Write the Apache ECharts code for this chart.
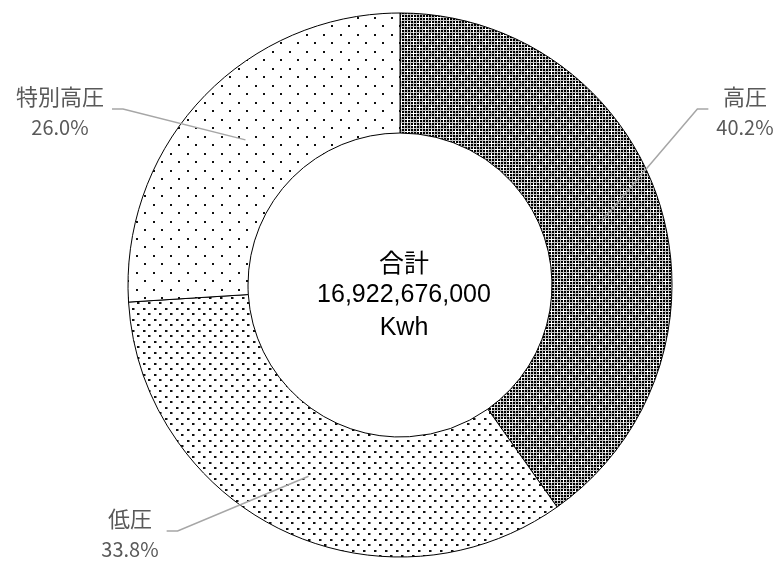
<!DOCTYPE html>
<html>
<head>
<meta charset="utf-8">
<script src="https://cdn.jsdelivr.net/npm/echarts@6/dist/echarts.min.js"></script>
<style>
html,body{margin:0;padding:0;background:#fff;}
#main{width:780px;height:562px;}
</style>
</head>
<body>
<div id="main"></div>
<script>
// ---- data ----
const categories = ['高圧', '低圧', '特別高圧'];
const shares = [40.2, 33.8, 26.0];
const totalLabel = ['合計', '16,922,676,000', 'Kwh'];

// ---- layout constants ----
const CX = 400, CY = 285, R_IN = 152, R_OUT = 272;
const labelBoxes = [
  { x: 745, y: 112, side: 1 },
  { x: 130, y: 534, side: -1 },
  { x: 60, y: 112, side: -1 }
];

function makePattern(size, draw) {
  const c = document.createElement('canvas');
  c.width = size; c.height = size;
  const ctx = c.getContext('2d');
  ctx.fillStyle = '#fff';
  ctx.fillRect(0, 0, size, size);
  draw(ctx, size);
  return { image: c, repeat: 'repeat' };
}

const patHigh = makePattern(12, function (ctx, s) {
  ctx.fillStyle = '#000';
  ctx.fillRect(0, 0, s, s);
  ctx.fillStyle = '#c4c4c4';
  for (let k = 2; k < s; k += 3) {
    ctx.fillRect(k, 0, 1, s);
    ctx.fillRect(0, k, s, 1);
  }
  ctx.fillStyle = '#fff';
  ctx.fillRect(5, 3, 1, 6);
  ctx.fillRect(3, 5, 6, 1);
  ctx.fillRect(11, 9, 1, 6);
  ctx.fillRect(9, 11, 3, 1);
  ctx.fillRect(0, 11, 3, 1);
  ctx.fillRect(11, 0, 1, 3);
});
const patLow = makePattern(11, function (ctx) {
  ctx.fillStyle = '#111';
  ctx.fillRect(0, 0, 2, 2);
  ctx.fillRect(5, 5, 2, 2);
  ctx.fillStyle = '#888';
  ctx.fillRect(2, 0, 1, 2);
  ctx.fillRect(7, 5, 1, 2);
});
const patExtra = makePattern(17, function (ctx) {
  ctx.fillStyle = '#111';
  ctx.fillRect(0, 0, 2, 2);
  ctx.fillRect(8, 8, 2, 2);
});
const patterns = [patHigh, patLow, patExtra];

const sum = shares.reduce((a, b) => a + b, 0);
function midAngle(i) {
  let acc = 0;
  for (let k = 0; k < i; k++) acc += shares[k];
  return (acc + shares[i] / 2) / sum * Math.PI * 2;
}

const baseSeries = {
  type: 'pie',
  center: [CX, CY],
  radius: [R_IN, R_OUT],
  startAngle: 90,
  clockwise: true,
  avoidLabelOverlap: false,
  emphasis: { disabled: true }
};

const chart = echarts.init(document.getElementById('main'));
chart.setOption({
  backgroundColor: '#fff',
  animation: false,
  series: [
    Object.assign({}, baseSeries, {
      z: 2,
      data: categories.map((n, i) => ({
        name: n,
        value: shares[i],
        itemStyle: { color: patterns[i] }
      })),
      itemStyle: { borderColor: '#000', borderWidth: 1 },
      label: { show: false },
      labelLine: { show: false }
    }),
    Object.assign({}, baseSeries, {
      z: 5,
      silent: true,
      data: categories.map((n, i) => ({ name: n, value: shares[i] })),
      itemStyle: { color: 'rgba(0,0,0,0)', borderWidth: 0 },
      label: {
        show: true,
        position: 'outside',
        formatter: p => '{n|' + p.name + '}\n{p|' + shares[p.dataIndex].toFixed(1) + '%}',
        rich: {
          n: { fontFamily: 'Noto Sans CJK JP', fontSize: 22, color: '#595959', lineHeight: 30, align: 'center' },
          p: { fontFamily: 'Noto Sans CJK JP', fontSize: 20, color: '#595959', lineHeight: 30, align: 'center' }
        }
      },
      labelLine: {
        show: true,
        showAbove: true,
        lineStyle: { color: '#a6a6a6', width: 1.5 }
      },
      labelLayout: function (params) {
        const i = params.dataIndex;
        const b = labelBoxes[i];
        const a = midAngle(i);
        const rm = (R_IN + R_OUT) / 2;
        const p0 = [CX + rm * Math.sin(a), CY - rm * Math.cos(a)];
        const w = params.labelRect.width;
        const ly = b.y - 3;
        const endX = b.side > 0 ? b.x - w / 2 - 8 : b.x + w / 2 + 8;
        const elbowX = endX - b.side * 11;
        return {
          x: b.x,
          y: b.y,
          align: 'center',
          verticalAlign: 'middle',
          labelLinePoints: [p0, [elbowX, ly], [endX, ly]]
        };
      }
    })
  ],
  graphic: [{
    type: 'text',
    x: CX + 4,
    y: 246,
    style: {
      text: '{c|' + totalLabel[0] + '}\n{t|' + totalLabel[1] + '}\n{t|' + totalLabel[2] + '}',
      align: 'center',
      verticalAlign: 'top',
      rich: {
        c: { fontFamily: 'Noto Sans CJK JP', fontSize: 25, color: '#000', lineHeight: 33, align: 'center' },
        t: { fontFamily: 'Liberation Sans', fontSize: 25, color: '#000', lineHeight: 33, align: 'center' }
      }
    }
  }]
});
</script>
</body>
</html>
